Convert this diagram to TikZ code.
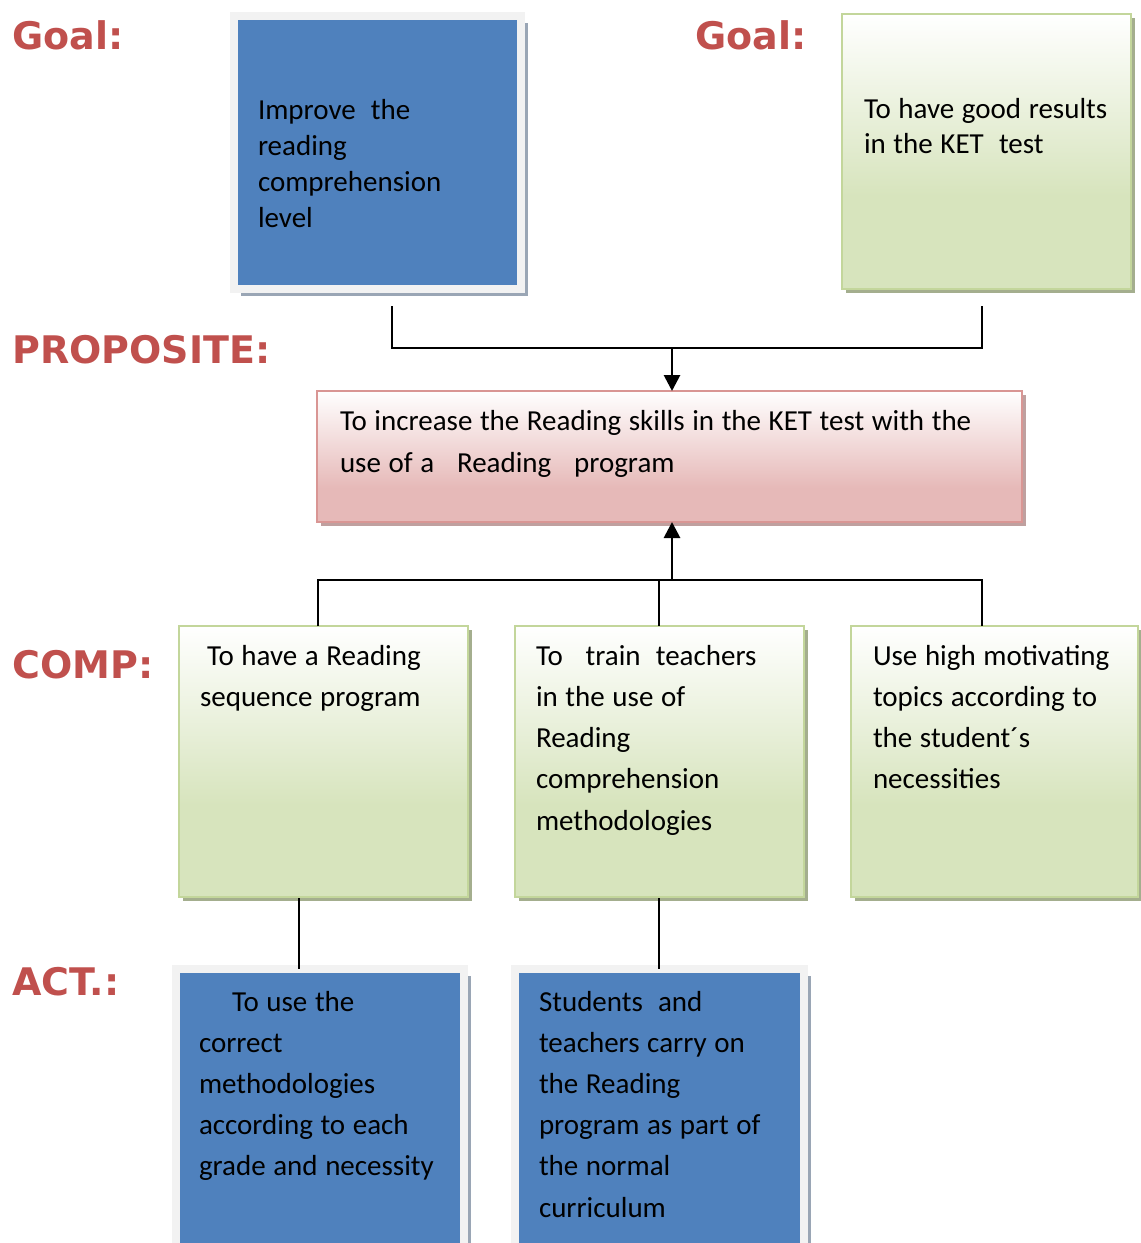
\documentclass[tikz,border=0pt]{standalone}
\usepackage{fontspec}
\setmainfont{Carlito}
\newfontfamily\labelfont{DejaVu Sans}
\usetikzlibrary{arrows.meta,shadows}
\definecolor{labred}{HTML}{C0504D}
\definecolor{boxblue}{HTML}{4F81BD}
\definecolor{framegray}{HTML}{F2F2F2}
\definecolor{blueshadow}{HTML}{9AA6B5}
\definecolor{greenborder}{HTML}{C3D69B}
\definecolor{greenbot}{HTML}{D7E4BD}
\definecolor{greenshadow}{HTML}{A4AE8E}
\definecolor{pinkborder}{HTML}{D99694}
\definecolor{pinkbot}{HTML}{E6B9B8}
\definecolor{pinkshadow}{HTML}{BFA09F}
\pgfdeclareverticalshading{greenfade}{100bp}{color(0bp)=(greenbot); color(42bp)=(greenbot); color(75bp)=(white); color(100bp)=(white)}
\pgfdeclareverticalshading{pinkfade}{100bp}{color(0bp)=(pinkbot); color(38bp)=(pinkbot); color(75bp)=(white); color(100bp)=(white)}
\tikzset{
  lab/.style={anchor=base west, inner sep=0pt, text=labred, font=\labelfont\bfseries\fontsize{38}{40}\selectfont},
  bluebox/.style={rectangle, inner sep=0pt, outer sep=0pt, fill=boxblue, draw=framegray, line width=8pt,
    drop shadow={shadow xshift=7pt, shadow yshift=-7pt, fill=blueshadow, opacity=1}},
  greenbox/.style={rectangle, inner sep=0pt, outer sep=0pt, shading=greenfade, draw=greenborder, line width=2pt,
    drop shadow={shadow xshift=4pt, shadow yshift=-4pt, fill=greenshadow, opacity=1}},
  pinkbox/.style={rectangle, inner sep=0pt, outer sep=0pt, shading=pinkfade, draw=pinkborder, line width=2pt,
    drop shadow={shadow xshift=4pt, shadow yshift=-4pt, fill=pinkshadow, opacity=1}},
  txt/.style={anchor=base west, inner sep=0pt, outer sep=0pt, text width=#1, align=left,
    execute at begin node={\spaceskip=7.6pt\relax\xspaceskip=7.6pt\relax}},
  txt/.default=330pt,
  conn/.style={draw=black, line width=2.2pt},
  arr/.style={draw=black, line width=2.8pt, -{Triangle[length=16pt,width=16pt]}}
}
\begin{document}
\begin{tikzpicture}[x=1pt,y=-1pt]
\useasboundingbox (0,0) rectangle (1141,1243);
% labels
\node[lab] (lg1) at (12,49) {Goal:};
\node[lab] (lg2) at (695,49) {Goal:};
\node[lab] (lpr) at (12,363) {PROPOSITE:};
\node[lab] (lco) at (12,678) {COMP:};
\node[lab] (lac) at (12,995) {ACT.:};
% boxes
\node[bluebox, minimum width=287pt, minimum height=273pt] (g1) at (377.5,152.5) {};
\node[greenbox, minimum width=289pt, minimum height=275pt] (g2) at (986.5,151.5) {};
\node[pinkbox, minimum width=705pt, minimum height=131pt] (p) at (669.5,456.5) {};
\node[greenbox, minimum width=289pt, minimum height=271pt] (c1) at (323.5,761.5) {};
\node[greenbox, minimum width=289pt, minimum height=271pt] (c2) at (659.5,761.5) {};
\node[greenbox, minimum width=287pt, minimum height=271pt] (c3) at (994.5,761.5) {};
\node[bluebox, minimum width=288pt, minimum height=281pt] (a1) at (320,1109.5) {};
\node[bluebox, minimum width=289pt, minimum height=281pt] (a2) at (659.5,1109.5) {};
% texts
\node[txt, font=\fontsize{29}{36}\selectfont] (tg1) at (258,119) {Improve\ \ the\\reading\\comprehension\\level};
\node[txt, font=\fontsize{29}{35}\selectfont] (tg2) at (864,118) {To have good results\\in the KET\ \ test};
\node[txt=700pt, font=\fontsize{29}{42}\selectfont] (tp) at (340,430) {To increase the Reading skills in the KET test with the\\use of a\ \ \ Reading\ \ \ program};
\node[txt, font=\fontsize{29}{41.3}\selectfont] (tc1) at (200,665) {\hspace*{7pt}To have a Reading\\sequence program};
\node[txt, font=\fontsize{29}{41.3}\selectfont] (tc2) at (536,665) {To\ \ \ train\ \ teachers\\in the use of\\Reading\\comprehension\\methodologies};
\node[txt, font=\fontsize{29}{41.3}\selectfont] (tc3) at (873,665) {Use high motivating\\topics according to\\the student´s\\necessities};
\node[txt, font=\fontsize{29}{41.2}\selectfont] (ta1) at (199,1011) {\hspace*{33pt}To use the\\correct\\methodologies\\according to each\\grade and necessity};
\node[txt, font=\fontsize{29}{41.2}\selectfont] (ta2) at (539,1011) {Students\ \ and\\teachers carry on\\the Reading\\program as part of\\the normal\\curriculum};
% connectors top
\coordinate (g1o) at (392,306);
\coordinate (g2o) at (982,306);
\coordinate (jl) at (392,348);
\coordinate (jr) at (982,348);
\coordinate (jm) at (672,348);
\draw[conn] (g1o) -- (jl) -- (jr) -- (g2o);
\draw[arr] (jm) -- (p.north -| jm);
% connectors bottom
\coordinate (kb) at (672,580);
\coordinate (k1) at (318,580);
\coordinate (k2) at (659,580);
\coordinate (k3) at (982,580);
\draw[arr] (kb) -- (p.south -| kb);
\draw[conn] (k1 |- c1.north) -- (k1) -- (k3) -- (k3 |- c3.north);
\draw[conn] (k2) -- (k2 |- c2.north);
% comp to act
\coordinate (m1) at (299,898);
\coordinate (m2) at (659,898);
\draw[conn] (m1) -- (m1 |- a1.north);
\draw[conn] (m2) -- (m2 |- a2.north);
\end{tikzpicture}
\end{document}
